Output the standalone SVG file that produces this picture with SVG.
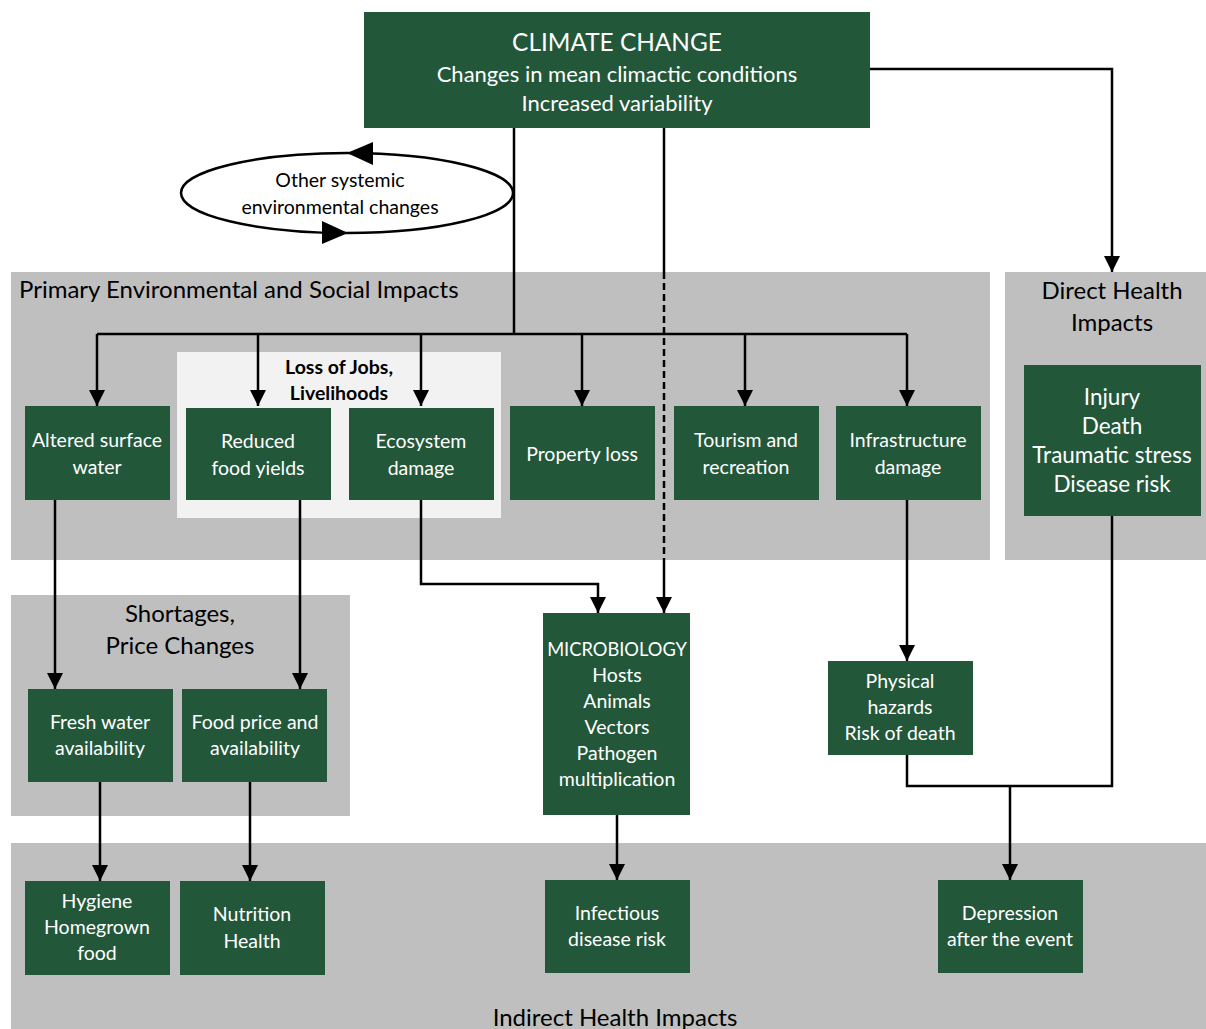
<svg xmlns="http://www.w3.org/2000/svg" width="1206" height="1029" viewBox="0 0 1206 1029">
<style>
  .panel { fill: #bfbfbf; }
  .light { fill: #f2f2f2; }
  .node { fill: #22573a; }
  .nt { font-family: Lato, "Open Sans", "Liberation Sans", sans-serif; fill: #ffffff; text-anchor: middle; font-size: 19.5px; }
  .pt { font-family: Lato, "Open Sans", "Liberation Sans", sans-serif; fill: #000000; font-size: 24px; }
  .bt { font-family: Lato, "Open Sans", "Liberation Sans", sans-serif; fill: #000000; font-size: 19.5px; }
  .big { font-size: 24.4px; }
  .mid { font-size: 22px; }
  .inj { font-size: 22.5px; }
  .c { fill: none; stroke: #000000; stroke-width: 2.5; }
</style>
<defs>
  <marker id="ah" viewBox="0 0 16 16" refX="16" refY="8" markerWidth="16" markerHeight="16" markerUnits="userSpaceOnUse" orient="auto">
    <path d="M0,0 L16,8 L0,16 z" fill="#000000"/>
  </marker>
</defs>
<rect width="1206" height="1029" fill="#ffffff"/>

<!-- Panels -->
<g id="panel-primary">
  <rect class="panel" x="11" y="272" width="979" height="288"/>
  <text class="pt" x="19" y="298">Primary Environmental and Social Impacts</text>
</g>
<g id="panel-direct">
  <rect class="panel" x="1005" y="272" width="201" height="288"/>
  <text class="pt" x="1112" y="299" text-anchor="middle">Direct Health</text>
  <text class="pt" x="1112" y="331" text-anchor="middle">Impacts</text>
</g>
<g id="panel-shortages">
  <rect class="panel" x="11" y="595" width="339" height="221"/>
  <text class="pt" x="180" y="622" text-anchor="middle">Shortages,</text>
  <text class="pt" x="180" y="654" text-anchor="middle">Price Changes</text>
</g>
<g id="panel-indirect">
  <rect class="panel" x="11" y="843" width="1195" height="186"/>
  <text class="pt" x="615" y="1026" text-anchor="middle">Indirect Health Impacts</text>
</g>
<g id="panel-jobs">
  <rect class="light" x="177" y="352" width="324" height="166"/>
  <text class="bt" x="339" y="374" text-anchor="middle" font-weight="bold">Loss of Jobs,</text>
  <text class="bt" x="339" y="400" text-anchor="middle" font-weight="bold">Livelihoods</text>
</g>

<!-- Connectors -->
<g id="connectors">
  <path class="c" d="M514,128 V334"/>
  <path class="c" d="M97,334 H907"/>
  <path class="c" d="M97,334 V406" marker-end="url(#ah)"/>
  <path class="c" d="M258,334 V406" marker-end="url(#ah)"/>
  <path class="c" d="M421,334 V406" marker-end="url(#ah)"/>
  <path class="c" d="M582,334 V406" marker-end="url(#ah)"/>
  <path class="c" d="M745,334 V406" marker-end="url(#ah)"/>
  <path class="c" d="M907,334 V406" marker-end="url(#ah)"/>
  <path class="c" d="M664,128 V272"/>
  <path class="c" d="M664,272 V560" stroke-dasharray="7 4"/>
  <path class="c" d="M664,560 V613" marker-end="url(#ah)"/>
  <path class="c" d="M870,69 H1112 V272" marker-end="url(#ah)"/>
  <path class="c" d="M55,500 V689" marker-end="url(#ah)"/>
  <path class="c" d="M300,500 V689" marker-end="url(#ah)"/>
  <path class="c" d="M421,500 V584 H598 V613" marker-end="url(#ah)"/>
  <path class="c" d="M907,500 V661" marker-end="url(#ah)"/>
  <path class="c" d="M100,782 V881" marker-end="url(#ah)"/>
  <path class="c" d="M250,782 V881" marker-end="url(#ah)"/>
  <path class="c" d="M617,815 V880" marker-end="url(#ah)"/>
  <path class="c" d="M907,755 V786 H1112 V516"/>
  <path class="c" d="M1010,786 V880" marker-end="url(#ah)"/>
</g>

<!-- Ellipse: other systemic environmental changes -->
<g id="other-changes">
  <ellipse cx="347" cy="193" rx="166" ry="40" fill="#ffffff" stroke="#000000" stroke-width="2.5"/>
  <polygon points="347,153 373,142 373,165" fill="#000000"/>
  <polygon points="348,233 322,221 322,244" fill="#000000"/>
  <text class="bt" x="340" y="187" text-anchor="middle">Other systemic</text>
  <text class="bt" x="340" y="214" text-anchor="middle">environmental changes</text>
</g>

<!-- Nodes -->
<g id="climate-change">
  <rect class="node" x="364" y="12" width="506" height="116"/>
  <text class="nt big" x="617" y="51">CLIMATE CHANGE</text>
  <text class="nt mid" x="617" y="82">Changes in mean climactic conditions</text>
  <text class="nt mid" x="617" y="111">Increased variability</text>
</g>
<g id="altered-surface-water">
  <rect class="node" x="25" y="406" width="145" height="94"/>
  <text class="nt" x="97" y="447">Altered surface</text>
  <text class="nt" x="97" y="474">water</text>
</g>
<g id="reduced-food-yields">
  <rect class="node" x="186" y="408" width="145" height="92"/>
  <text class="nt" x="258" y="448">Reduced</text>
  <text class="nt" x="258" y="475">food yields</text>
</g>
<g id="ecosystem-damage">
  <rect class="node" x="349" y="408" width="145" height="92"/>
  <text class="nt" x="421" y="448">Ecosystem</text>
  <text class="nt" x="421" y="475">damage</text>
</g>
<g id="property-loss">
  <rect class="node" x="510" y="406" width="145" height="94"/>
  <text class="nt" x="582" y="461">Property loss</text>
</g>
<g id="tourism">
  <rect class="node" x="674" y="406" width="145" height="94"/>
  <text class="nt" x="746" y="447">Tourism and</text>
  <text class="nt" x="746" y="474">recreation</text>
</g>
<g id="infrastructure-damage">
  <rect class="node" x="836" y="406" width="145" height="94"/>
  <text class="nt" x="908" y="447">Infrastructure</text>
  <text class="nt" x="908" y="474">damage</text>
</g>
<g id="direct-health">
  <rect class="node" x="1024" y="365" width="177" height="151"/>
  <text class="nt inj" x="1112" y="405">Injury</text>
  <text class="nt inj" x="1112" y="434">Death</text>
  <text class="nt inj" x="1112" y="463">Traumatic stress</text>
  <text class="nt inj" x="1112" y="492">Disease risk</text>
</g>
<g id="fresh-water">
  <rect class="node" x="28" y="689" width="145" height="93"/>
  <text class="nt" x="100" y="729">Fresh water</text>
  <text class="nt" x="100" y="755">availability</text>
</g>
<g id="food-price">
  <rect class="node" x="182" y="689" width="145" height="93"/>
  <text class="nt" x="255" y="729">Food price and</text>
  <text class="nt" x="255" y="755">availability</text>
</g>
<g id="microbiology">
  <rect class="node" x="543" y="613" width="147" height="202"/>
  <text class="nt" x="617" y="656" style="font-size:18.3px">MICROBIOLOGY</text>
  <text class="nt" x="617" y="682">Hosts</text>
  <text class="nt" x="617" y="708">Animals</text>
  <text class="nt" x="617" y="734">Vectors</text>
  <text class="nt" x="617" y="760">Pathogen</text>
  <text class="nt" x="617" y="786">multiplication</text>
</g>
<g id="physical-hazards">
  <rect class="node" x="828" y="661" width="145" height="94"/>
  <text class="nt" x="900" y="688">Physical</text>
  <text class="nt" x="900" y="714">hazards</text>
  <text class="nt" x="900" y="740">Risk of death</text>
</g>
<g id="hygiene">
  <rect class="node" x="25" y="881" width="145" height="94"/>
  <text class="nt" x="97" y="908">Hygiene</text>
  <text class="nt" x="97" y="934">Homegrown</text>
  <text class="nt" x="97" y="960">food</text>
</g>
<g id="nutrition">
  <rect class="node" x="180" y="881" width="145" height="94"/>
  <text class="nt" x="252" y="921">Nutrition</text>
  <text class="nt" x="252" y="948">Health</text>
</g>
<g id="infectious">
  <rect class="node" x="545" y="880" width="145" height="93"/>
  <text class="nt" x="617" y="920">Infectious</text>
  <text class="nt" x="617" y="946">disease risk</text>
</g>
<g id="depression">
  <rect class="node" x="938" y="880" width="145" height="93"/>
  <text class="nt" x="1010" y="920">Depression</text>
  <text class="nt" x="1010" y="946">after the event</text>
</g>
</svg>
